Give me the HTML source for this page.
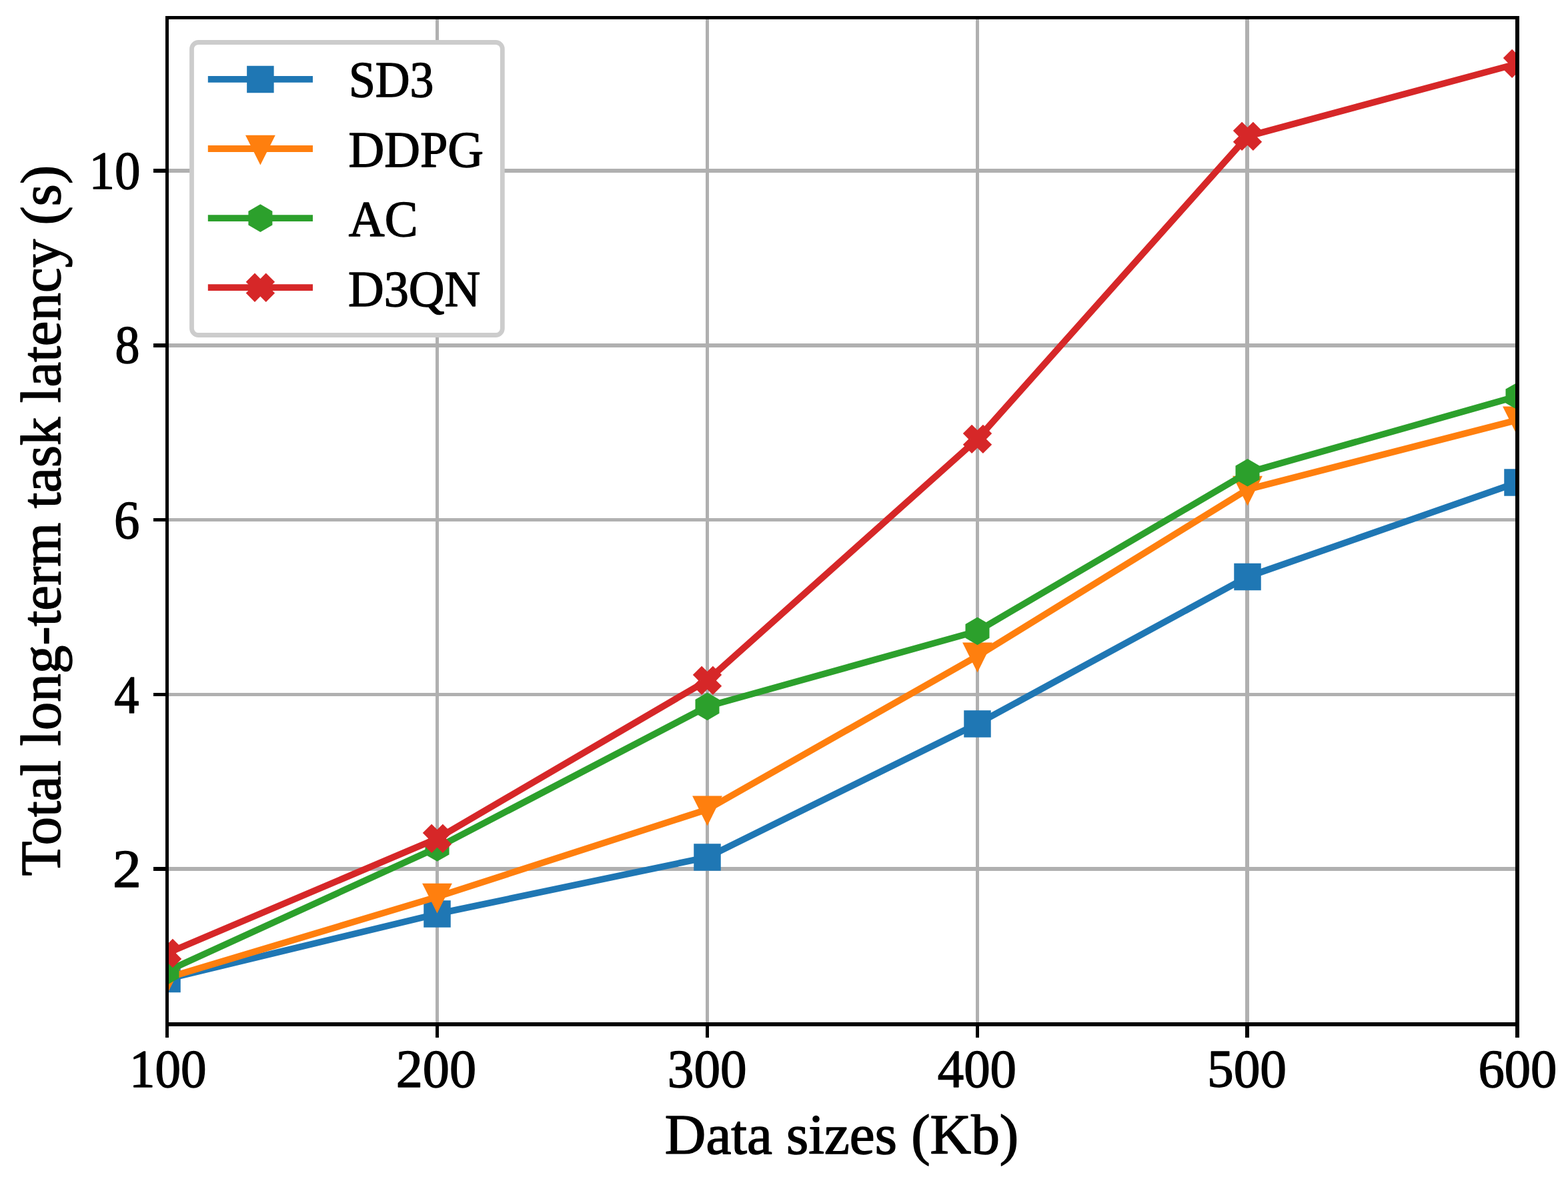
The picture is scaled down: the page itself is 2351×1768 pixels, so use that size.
<!DOCTYPE html>
<html><head><meta charset="utf-8"><title>Total long-term task latency vs data sizes</title>
<style>html,body{margin:0;padding:0;background:#fff;overflow:hidden}svg{display:block}text{font-family:"Liberation Serif","Times New Roman",serif;font-size:100px;fill:#000;stroke:#000;stroke-width:1.8px;stroke-linejoin:round}</style></head><body>
<svg width="2351" height="1768" viewBox="0 0 2351 1768">
<rect x="0" y="0" width="2351" height="1768" fill="#fff"/>
<g fill="#b0b0b0" shape-rendering="crispEdges">
<rect x="653" y="29" width="5" height="1504"/>
<rect x="1058" y="29" width="5" height="1504"/>
<rect x="1463" y="29" width="5" height="1504"/>
<rect x="1867" y="29" width="6" height="1504"/>
<rect x="253" y="253" width="2019" height="6"/>
<rect x="253" y="515" width="2019" height="6"/>
<rect x="253" y="777" width="2019" height="5"/>
<rect x="253" y="1039" width="2019" height="5"/>
<rect x="253" y="1300" width="2019" height="6"/>
</g>
<defs><clipPath id="ax"><rect x="250.5" y="26.5" width="2025" height="1509.5"/></clipPath></defs>
<g clip-path="url(#ax)">
<polyline points="250.50,1468.00 655.50,1370.40 1060.50,1285.50 1465.50,1085.40 1870.50,865.00 2275.50,723.40" fill="none" stroke="#1f77b4" stroke-width="9.8" stroke-linejoin="round" stroke-linecap="square"/>
<g fill="#1f77b4">
<polygon points="230.25,1447.75 270.75,1447.75 270.75,1488.25 230.25,1488.25"/>
<polygon points="635.25,1350.15 675.75,1350.15 675.75,1390.65 635.25,1390.65"/>
<polygon points="1040.25,1265.25 1080.75,1265.25 1080.75,1305.75 1040.25,1305.75"/>
<polygon points="1445.25,1065.15 1485.75,1065.15 1485.75,1105.65 1445.25,1105.65"/>
<polygon points="1850.25,844.75 1890.75,844.75 1890.75,885.25 1850.25,885.25"/>
<polygon points="2255.25,703.15 2295.75,703.15 2295.75,743.65 2255.25,743.65"/>
</g>
<polyline points="250.50,1466.40 655.50,1344.90 1060.50,1213.85 1465.50,983.80 1870.50,733.90 2275.50,629.80" fill="none" stroke="#ff7f0e" stroke-width="9.8" stroke-linejoin="round" stroke-linecap="square"/>
<g fill="#ff7f0e">
<polygon points="250.50,1490.98 272.91,1446.15 228.09,1446.15"/>
<polygon points="655.50,1369.48 677.91,1324.65 633.09,1324.65"/>
<polygon points="1060.50,1238.43 1082.91,1193.60 1038.09,1193.60"/>
<polygon points="1465.50,1008.38 1487.91,963.55 1443.09,963.55"/>
<polygon points="1870.50,758.48 1892.91,713.65 1848.09,713.65"/>
<polygon points="2275.50,654.38 2297.91,609.55 2253.09,609.55"/>
</g>
<polyline points="250.50,1456.30 655.50,1271.00 1060.50,1059.40 1465.50,946.40 1870.50,708.80 2275.50,594.00" fill="none" stroke="#2ca02c" stroke-width="9.8" stroke-linejoin="round" stroke-linecap="square"/>
<g fill="#2ca02c">
<polygon points="250.50,1435.51 232.49,1445.90 232.49,1466.70 250.50,1477.09 268.51,1466.70 268.51,1445.90"/>
<polygon points="655.50,1250.21 637.49,1260.60 637.49,1281.40 655.50,1291.79 673.51,1281.40 673.51,1260.60"/>
<polygon points="1060.50,1038.61 1042.49,1049.00 1042.49,1069.80 1060.50,1080.19 1078.51,1069.80 1078.51,1049.00"/>
<polygon points="1465.50,925.61 1447.49,936.00 1447.49,956.80 1465.50,967.19 1483.51,956.80 1483.51,936.00"/>
<polygon points="1870.50,688.01 1852.49,698.40 1852.49,719.20 1870.50,729.59 1888.51,719.20 1888.51,698.40"/>
<polygon points="2275.50,573.21 2257.49,583.60 2257.49,604.40 2275.50,614.79 2293.51,604.40 2293.51,583.60"/>
</g>
<polyline points="250.50,1429.50 655.50,1257.40 1060.50,1020.40 1465.50,658.40 1870.50,204.40 2275.50,95.40" fill="none" stroke="#d62728" stroke-width="9.8" stroke-linejoin="round" stroke-linecap="square"/>
<g fill="#d62728">
<polygon points="242.12,1407.80 250.50,1416.18 258.88,1407.80 272.20,1421.12 263.82,1429.50 272.20,1437.88 258.88,1451.20 250.50,1442.82 242.12,1451.20 228.80,1437.88 237.18,1429.50 228.80,1421.12"/>
<polygon points="647.12,1235.70 655.50,1244.08 663.88,1235.70 677.20,1249.03 668.82,1257.40 677.20,1265.78 663.88,1279.10 655.50,1270.72 647.12,1279.10 633.80,1265.78 642.18,1257.40 633.80,1249.03"/>
<polygon points="1052.12,998.70 1060.50,1007.08 1068.88,998.70 1082.20,1012.02 1073.82,1020.40 1082.20,1028.78 1068.88,1042.10 1060.50,1033.72 1052.12,1042.10 1038.80,1028.78 1047.18,1020.40 1038.80,1012.02"/>
<polygon points="1457.12,636.70 1465.50,645.08 1473.88,636.70 1487.20,650.02 1478.82,658.40 1487.20,666.77 1473.88,680.10 1465.50,671.72 1457.12,680.10 1443.80,666.77 1452.18,658.40 1443.80,650.02"/>
<polygon points="1862.12,182.70 1870.50,191.08 1878.88,182.70 1892.20,196.03 1883.82,204.40 1892.20,212.78 1878.88,226.10 1870.50,217.72 1862.12,226.10 1848.80,212.78 1857.18,204.40 1848.80,196.03"/>
<polygon points="2267.12,73.70 2275.50,82.08 2283.88,73.70 2297.20,87.03 2288.82,95.40 2297.20,103.78 2283.88,117.10 2275.50,108.72 2267.12,117.10 2253.80,103.78 2262.18,95.40 2253.80,87.03"/>
</g>
</g>
<g fill="#000" shape-rendering="crispEdges">
<rect x="248" y="24" width="5" height="1515"/>
<rect x="2272" y="24" width="6" height="1515"/>
<rect x="248" y="24" width="2030" height="5"/>
<rect x="248" y="1533" width="2030" height="6"/>
<rect x="248" y="1539" width="5" height="17"/>
<rect x="653" y="1539" width="5" height="17"/>
<rect x="1058" y="1539" width="5" height="17"/>
<rect x="1463" y="1539" width="5" height="17"/>
<rect x="1867" y="1539" width="6" height="17"/>
<rect x="2272" y="1539" width="6" height="17"/>
<rect x="230" y="253" width="18" height="6"/>
<rect x="230" y="515" width="18" height="6"/>
<rect x="230" y="777" width="18" height="5"/>
<rect x="230" y="1039" width="18" height="5"/>
<rect x="230" y="1300" width="18" height="6"/>
</g>
<rect x="287.5" y="63.5" width="465.8" height="439" rx="10" ry="10" fill="#fff" stroke="#cccccc" stroke-width="6.8"/>
<line x1="311.8" y1="118.90" x2="469" y2="118.90" stroke="#1f77b4" stroke-width="9.8"/>
<g fill="#1f77b4"><polygon points="370.15,98.65 410.65,98.65 410.65,139.15 370.15,139.15"/></g>
<line x1="311.8" y1="223.00" x2="469" y2="223.00" stroke="#ff7f0e" stroke-width="9.8"/>
<g fill="#ff7f0e"><polygon points="390.40,247.58 412.81,202.75 367.99,202.75"/></g>
<line x1="311.8" y1="327.10" x2="469" y2="327.10" stroke="#2ca02c" stroke-width="9.8"/>
<g fill="#2ca02c"><polygon points="390.40,306.31 372.39,316.70 372.39,337.50 390.40,347.89 408.41,337.50 408.41,316.70"/></g>
<line x1="311.8" y1="431.20" x2="469" y2="431.20" stroke="#d62728" stroke-width="9.8"/>
<g fill="#d62728"><polygon points="382.02,409.50 390.40,417.88 398.77,409.50 412.10,422.82 403.72,431.20 412.10,439.57 398.77,452.90 390.40,444.52 382.02,452.90 368.70,439.57 377.08,431.20 368.70,422.82"/></g>
<text transform="translate(251.74,1630.42) scale(0.7707,0.8000)" text-anchor="middle">100</text>
<text transform="translate(653.84,1630.42) scale(0.8025,0.8000)" text-anchor="middle">200</text>
<text transform="translate(1060.20,1630.42) scale(0.7921,0.8000)" text-anchor="middle">300</text>
<text transform="translate(1464.84,1630.42) scale(0.7886,0.8000)" text-anchor="middle">400</text>
<text transform="translate(1869.48,1630.42) scale(0.7936,0.8000)" text-anchor="middle">500</text>
<text transform="translate(2275.40,1630.42) scale(0.7864,0.8000)" text-anchor="middle">600</text>
<text transform="translate(211.82,1330.27) scale(0.8564,0.8000)" text-anchor="end">2</text>
<text transform="translate(208.47,1068.62) scale(0.7437,0.8000)" text-anchor="end">4</text>
<text transform="translate(209.28,806.60) scale(0.7676,0.8000)" text-anchor="end">6</text>
<text transform="translate(209.35,544.15) scale(0.7394,0.8000)" text-anchor="end">8</text>
<text transform="translate(210.45,283.39) scale(0.7694,0.8000)" text-anchor="end">10</text>
<text transform="translate(522.95,145.17) scale(0.7169,0.7540)">SD3</text>
<text transform="translate(522.60,249.64) scale(0.7438,0.7540)">DDPG</text>
<text transform="translate(522.79,353.71) scale(0.7462,0.7540)">AC</text>
<text transform="translate(521.99,458.53) scale(0.7438,0.7540)">D3QN</text>
<text transform="translate(1262.00,1729.81) scale(0.8529,0.8460)" text-anchor="middle">Data sizes (Kb)</text>
<text transform="translate(89.80,780.65) rotate(-90) scale(0.8502,0.8460)" text-anchor="middle">Total long-term task latency (s)</text>
</svg></body></html>
